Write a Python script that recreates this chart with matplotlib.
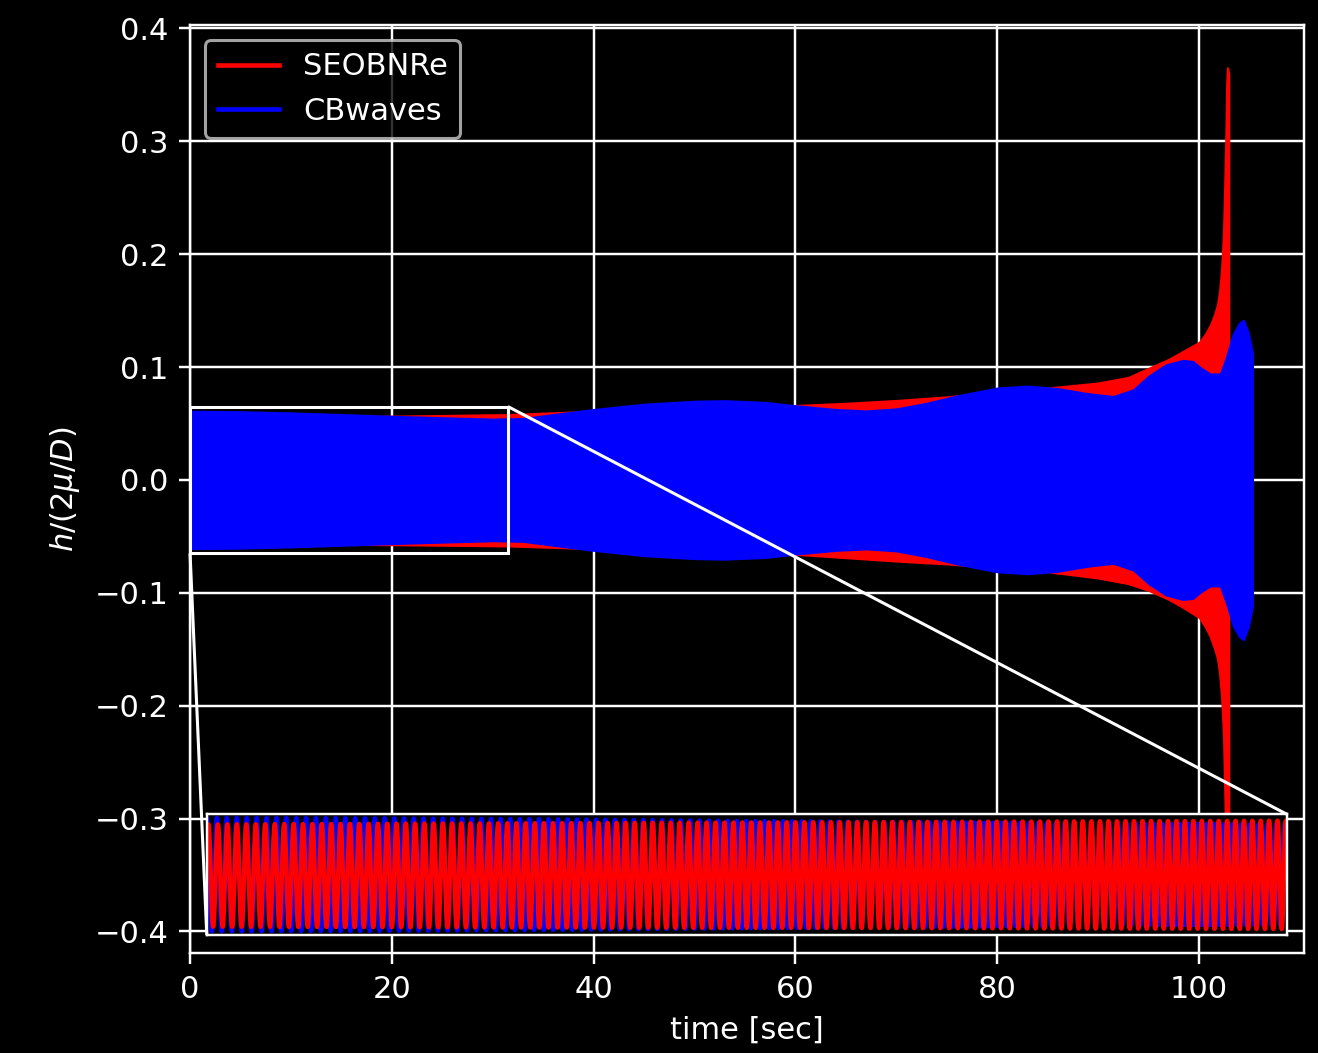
import numpy as np
import matplotlib
matplotlib.use('Agg')
import matplotlib.pyplot as plt
from mpl_toolkits.axes_grid1.inset_locator import mark_inset

# envelope of SEOBNRe (red)
red_t = [0, 10, 20, 31.5, 40, 50, 60, 65, 70, 75, 80, 85, 90, 93, 95, 97, 98.4, 100,
         100.6, 101.1, 101.5, 101.8, 102.0, 102.2, 102.4, 102.55, 102.65, 102.72, 102.8, 102.95]
red_up = [0.054, 0.0553, 0.0566, 0.058, 0.061, 0.063, 0.066, 0.068, 0.0705, 0.0737, 0.078,
          0.0815, 0.086, 0.091, 0.099, 0.107, 0.114, 0.122,
          0.129, 0.137, 0.146, 0.155, 0.166, 0.185, 0.218, 0.27, 0.31, 0.35, 0.366, 0.36]
red_lo = [-0.056, -0.057, -0.0575, -0.0586, -0.061, -0.063, -0.066, -0.069, -0.072, -0.0745, -0.078,
          -0.0815, -0.087, -0.092, -0.098, -0.106, -0.113, -0.122,
          -0.13, -0.139, -0.149, -0.158, -0.17, -0.19, -0.225, -0.285, -0.33, -0.365, -0.382, -0.375]

# envelope of CBwaves (blue)
blue_t = [0, 5, 10, 15, 20, 25, 30, 33, 36, 40, 45, 50, 53, 57, 60, 64, 67, 70, 73, 76,
          80, 83, 86, 89, 91.5, 93.5, 95, 96.7, 98.4, 99.4, 100.1, 101.1, 102.1, 102.7,
          103.4, 104.0, 104.4, 104.9, 105.3]
blue_up = [0.061, 0.0605, 0.0595, 0.058, 0.0565, 0.0552, 0.054, 0.0545, 0.058, 0.0625, 0.0672,
           0.0698, 0.0703, 0.0688, 0.0658, 0.0625, 0.0612, 0.063, 0.068, 0.0745,
           0.0815, 0.0832, 0.081, 0.0765, 0.074, 0.080, 0.092, 0.102, 0.106, 0.105, 0.0997,
           0.094, 0.094, 0.109, 0.130, 0.139, 0.1416, 0.130, 0.112]

# visible oscillation rate in the zoomed window (cycles per sec, at start / end of window)
zoom_t = [0, 31.5]
red_freq = [3.6, 4.1]
blue_freq = [3.43, 3.95]

plt.style.use('dark_background')
fig = plt.figure(figsize=(1318 / 220, 1053 / 220), dpi=220)
ax = fig.add_axes([0.1442, 0.0945, 0.8452, 0.8818])
ax.set_axisbelow(True)


def fine(t, up, lo, n=4000):
    tt = np.linspace(t[0], t[-1], n)
    return tt, np.interp(tt, t, up), np.interp(tt, t, lo)


rt, ru, rl = fine(red_t, red_up, red_lo)
bt, bu, bl = fine(blue_t, blue_up, [-v for v in blue_up])
ax.fill_between(rt, rl, ru, color='r', lw=0.6, zorder=2)
ax.fill_between(bt, bl, bu, color='b', lw=0.6, zorder=2)
ax.plot([], [], 'r', label='SEOBNRe')
ax.plot([], [], 'b', label='CBwaves')

ax.set_xlim(0, 110.4)
ax.set_ylim(-0.4195, 0.403)
ax.set_yticks(np.arange(-0.4, 0.41, 0.1))
ax.set_xticks(np.arange(0, 101, 20))
ax.grid(True)
ax.set_xlabel('time [sec]')
ax.set_ylabel(r'$h/(2\mu/D)$')
ax.legend(loc='upper left')

# zoomed window
axins = ax.inset_axes([0.015, 0.02, 0.9695, 0.13])
tz = np.linspace(0, 32, 20000)


def wave(t_env, up, lo, freq, ph0):
    f = np.interp(tz, zoom_t, freq)
    ph = 2 * np.pi * np.concatenate([[0], np.cumsum((f[1:] + f[:-1]) / 2 * np.diff(tz))]) + ph0
    a_up = np.interp(tz, t_env, up)
    a_lo = np.interp(tz, t_env, lo)
    return (a_up - a_lo) / 2 * np.cos(ph) + (a_up + a_lo) / 2


axins.plot(tz, wave(blue_t, blue_up, [-v for v in blue_up], blue_freq, 0.0), 'b', lw=1.5)
axins.plot(tz, wave(red_t, red_up, red_lo, red_freq, -np.pi / 3), 'r', lw=1.5)
axins.set_xlim(0, 31.5)
axins.set_ylim(-0.065, 0.065)
axins.set_xticks([])
axins.set_yticks([])
mark_inset(ax, axins, loc1=1, loc2=3, fc='none', ec='white', lw=1, zorder=4)

fig.savefig('out.png', dpi=220)
